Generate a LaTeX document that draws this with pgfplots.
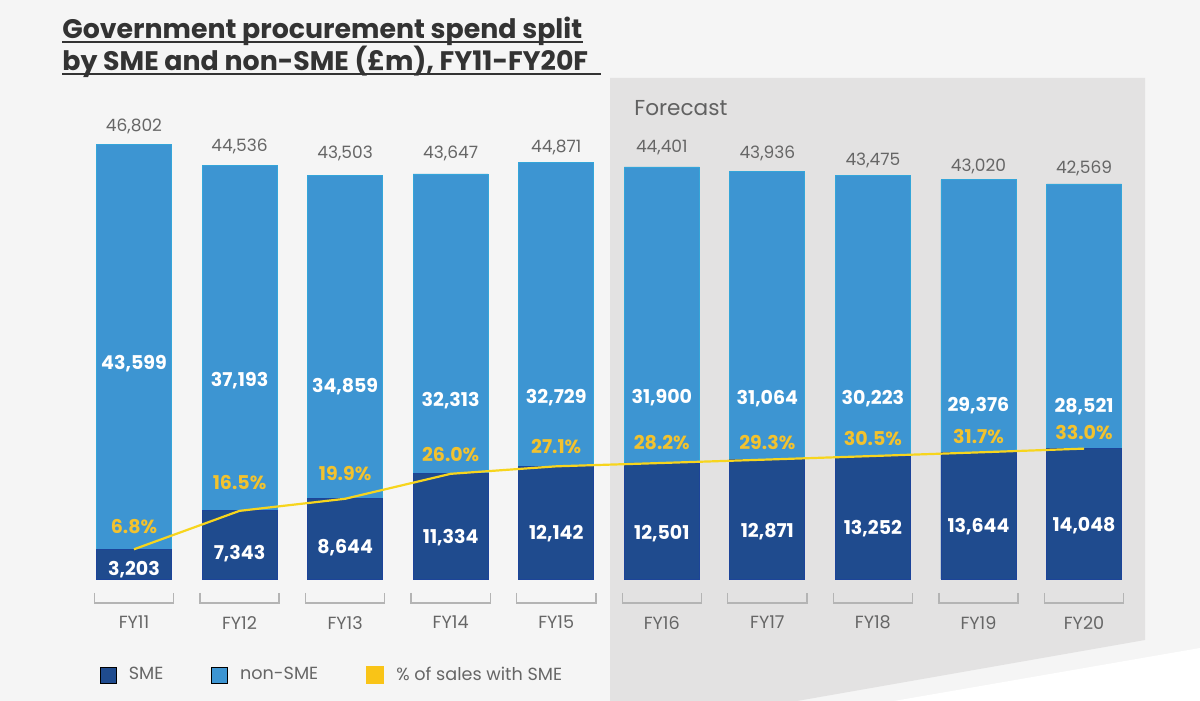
\documentclass[border=0pt]{standalone}
\usepackage{fontspec}
\setmainfont{Poppins}
\usepackage{pgfplots}
\pgfplotsset{compat=1.18}
\usepackage{pgfplotstable}

\definecolor{bg}{HTML}{F5F5F5}
\definecolor{fcast}{HTML}{E3E2E2}
\definecolor{sme}{HTML}{1F4B8E}
\definecolor{nonsme}{HTML}{3D95D2}
\definecolor{lineyel}{HTML}{F7D51D}
\definecolor{pctyel}{HTML}{F2C22E}
\definecolor{txtgray}{HTML}{666666}
\definecolor{titlegray}{HTML}{333333}
\definecolor{brk}{HTML}{B4B4B4}

% values in GBP m; y* columns = where the printed labels sit
\pgfplotstableread{
x sme non total ysme ynon ypct pct ytot
0 3203 43599 46802 970 23168 5604 6.8 48815
1 7343 37193 44536 2694 21336 10345 16.5 46660
2 8644 34859 43503 3341 20690 11315 19.9 45906
3 11334 32313 43647 4418 19181 13362 26.0 45906
4 12142 32729 44871 4849 19505 14224 27.1 46552
5 12501 31900 44401 4849 19505 14655 28.2 46552
6 12871 31064 43936 5065 19397 14655 29.3 45906
7 13252 30223 43475 5388 19397 15086 30.5 45151
8 13644 29376 43020 5604 18642 15302 31.7 44505
9 14048 28521 42569 5711 18535 15733 33.0 44289
}\spend

\pgfplotsset{
  /pgf/number format/.cd, 1000 sep={,}, assume math mode=true,
  /pgfplots/.cd,
  lab/.style={draw=none, mark=none, forget plot, point meta=explicit,
    nodes near coords, nodes near coords align=center,
    every node near coord/.append style={anchor=center, inner sep=0pt}},
}

\begin{document}
\begin{tikzpicture}
\fill[bg] (0pt,0pt) rectangle (600pt,350.5pt);
\fill[fcast] (305pt,311.5pt) -- (572.5pt,311.5pt) -- (572.5pt,30.5pt) -- (398.5pt,0pt) -- (305pt,0pt) -- cycle;
\fill[white] (600pt,26.5pt) -- (600pt,0pt) -- (447pt,0pt) -- cycle;

\node[anchor=base west, inner sep=0pt, text=titlegray, font=\bfseries\fontsize{13.4}{16}\selectfont] (t1) at (31pt,331pt) {Government procurement spend split};
\node[anchor=base west, inner sep=0pt, text=titlegray, font=\bfseries\fontsize{13.4}{16}\selectfont] (t2) at (31pt,315pt) {by SME and non-SME (£m), FY11-FY20F};
\draw[titlegray, line width=0.7pt] ([yshift=-1.6pt]t1.base west) -- ([yshift=-1.6pt]t1.base east);
\draw[titlegray, line width=0.7pt] ([yshift=-1.6pt]t2.base west) -- ([yshift=-1.6pt,xshift=6pt]t2.base east);
\node[anchor=west, inner sep=0pt, text=txtgray!95!black, font=\fontsize{10.8}{12}\selectfont] at (317pt,296.5pt) {Forecast};

\begin{axis}[
  at={(40.6pt,61pt)}, anchor=south west,
  scale only axis, width=527.8pt, height=232pt,
  xmin=-0.5, xmax=9.5, ymin=0, ymax=50000,
  axis line style={draw=none},
  ytick=\empty,
  xtick={0,...,9},
  xticklabels={FY11,FY12,FY13,FY14,FY15,FY16,FY17,FY18,FY19,FY20},
  major tick length=0pt,
  xticklabel style={text=txtgray, font=\fontsize{8.8}{10}\selectfont, yshift=-15pt},
  clip=false,
  legend columns=3,
  legend style={at={(0.0175,-0.207)}, anchor=west, draw=none, fill=none,
    inner sep=0pt, text=txtgray, font=\fontsize{8.8}{10}\selectfont,
    /tikz/every odd column/.append style={column sep=4pt},
    /tikz/every even column/.append style={column sep=22pt}},
  legend image code/.code={\fill[#1] (0pt,-4pt) rectangle (8pt,4pt);},
]
% totals (light blue) with SME (dark blue) laid over them
\addplot[ybar, bar width=0.71, bar shift=0pt, fill=nonsme, draw=nonsme!85!cyan, line width=0.4pt, forget plot]
  table[x=x, y=total] {\spend};
\addplot[ybar, bar width=0.71, bar shift=0pt, fill=sme, draw=sme!90!blue, line width=0.4pt, forget plot]
  table[x=x, y=sme] {\spend};
\addlegendimage{fill=sme}
\addlegendentry{SME}
\addlegendimage{fill=nonsme}
\addlegendentry{non-SME}
\addplot[lineyel, line width=1.1pt, mark=none,
  legend image code/.code={\fill[lineyel!80!orange] (0pt,-4pt) rectangle (8pt,4pt);}]
  table[x=x, y=sme] {\spend};
\addlegendentry{\% of sales with SME}

% labels
\addplot[lab, every node near coord/.append style={text=white, font=\bfseries\fontsize{9.5}{11}\selectfont}]
  table[x=x, y=ysme, meta=sme] {\spend};
\addplot[lab, every node near coord/.append style={text=white, font=\bfseries\fontsize{9.5}{11}\selectfont}]
  table[x=x, y=ynon, meta=non] {\spend};
\addplot[lab, every node near coord/.append style={text=txtgray, font=\fontsize{8.5}{10}\selectfont}]
  table[x=x, y=ytot, meta=total] {\spend};
\addplot[lab, nodes near coords={\pgfmathprintnumber[fixed, fixed zerofill, precision=1]{\pgfplotspointmeta}\%},
  every node near coord/.append style={text=pctyel, font=\bfseries\fontsize{9.5}{11}\selectfont}]
  table[x=x, y=ypct, meta=pct] {\spend};

% brackets under each bar
\foreach \i in {0,...,9} {
  \edef\tmp{\noexpand\draw[brk, line width=0.7pt]
    (axis cs:\i-0.375,-1509) -- (axis cs:\i-0.375,-2586) -- (axis cs:\i+0.375,-2586) -- (axis cs:\i+0.375,-1509);}
  \tmp
}
\end{axis}
\pgfresetboundingbox
\useasboundingbox (0pt,0pt) rectangle (600pt,350.5pt);
\end{tikzpicture}
\end{document}
